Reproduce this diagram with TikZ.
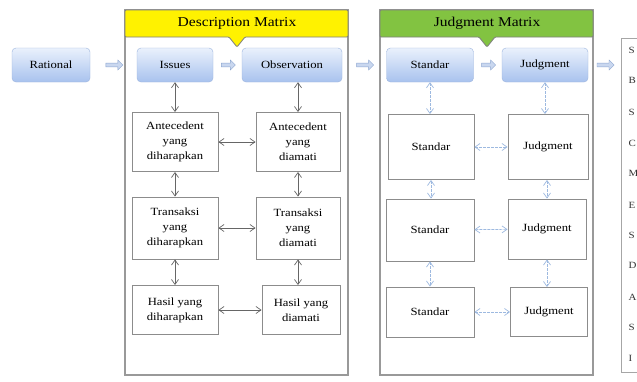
\documentclass[tikz,border=0pt]{standalone}
\usepackage{fontspec}
\setmainfont{Liberation Serif}[FakeStretch=1.15]
\usepackage{tikz}
\usetikzlibrary{%
  arrows.meta,%
  calc,%
  shapes.arrows%
}
\definecolor{boxtop}{HTML}{EAF1FC}
\definecolor{boxbot}{HTML}{A8C2EE}
\definecolor{boxline}{HTML}{9DB5DE}
\definecolor{arrfill}{HTML}{C9D7EF}
\definecolor{arrline}{HTML}{8CA6D0}
\definecolor{hdyellow}{HTML}{FFF200}
\definecolor{hdgreen}{HTML}{82C341}
\definecolor{ltblue}{HTML}{9DB9E0}
\tikzset{
  rbox/.style={draw=boxline,rounded corners=4pt,top color=boxtop,bottom color=boxbot,
    minimum height=34pt,font=\fontsize{11}{14}\selectfont},
  mbox/.style={draw=black!45,line width=0.9pt,align=center,
    font=\fontsize{11}{15}\selectfont},
  blockarr/.style={single arrow,draw=arrline,fill=arrfill,minimum height=17pt,
    minimum width=10pt,single arrow head extend=2pt,inner sep=1pt},
  dbl/.style={{Straight Barb[length=5pt,width=7pt]}-{Straight Barb[length=5pt,width=7pt]},
    black!60,line width=0.7pt},
  dblb/.style={dbl,ltblue,dashed,dash pattern=on 3pt off 1pt}
}
\begin{document}
\begin{tikzpicture}[x=1pt,y=-1pt]
\useasboundingbox[fill=white] (0,0) rectangle (637,381);
% frames and headers
\draw[black!40,line width=1.2pt] (125,10) rectangle (348,375);
\draw[black!40,line width=1.2pt] (380,10) rectangle (593,375);
\draw[black!35,line width=1pt] (621,38) rectangle (660,372);
\filldraw[draw=black!50,fill=hdyellow,line width=0.8pt,rounded corners=1pt]
  (125,10) -- (348,10) -- (348,37) -- (245,37) -- (237,47) -- (229,37) -- (125,37) -- cycle;
\filldraw[draw=black!50,fill=hdgreen,line width=0.8pt,rounded corners=1pt]
  (380,10) -- (593,10) -- (593,37) -- (495,37) -- (487,47) -- (479,37) -- (380,37) -- cycle;
\node[font=\fontsize{13.5}{16}\selectfont] (desc) at (237,23) {Description Matrix};
\node[font=\fontsize{13.5}{16}\selectfont] (judg) at (487,23) {Judgment Matrix};

% top row
\node[rbox,minimum width=78pt] (rational) at (51,65) {Rational};
\node[rbox,minimum width=76pt] (issues) at (175,65) {Issues};
\node[rbox,minimum width=100pt] (observ) at (292,65) {Observation};
\node[rbox,minimum width=87pt] (stdA) at (430,65) {Standar};
\node[rbox,minimum width=86pt] (jdgA) at (545,65) {Judgment};
\coordinate (panel) at (621,65);

\node[blockarr] at ($(rational.east)!0.5!(issues.west)$) {};
\node[blockarr,minimum height=14pt] at ($(issues.east)!0.5!(observ.west)$) {};
\node[blockarr] at ($(observ.east)!0.5!(stdA.west)$) {};
\node[blockarr,minimum height=14pt] at ($(stdA.east)!0.5!(jdgA.west)$) {};
\node[blockarr] at ($(jdgA.east)!0.5!(panel)$) {};

% description matrix
\node[mbox,minimum width=86pt,minimum height=59pt] (antL) at (175,142)
  {Antecedent\\yang\\diharapkan};
\node[mbox,minimum width=84pt,minimum height=59pt] (antR) at (298,142)
  {Antecedent\\yang\\diamati};
\node[mbox,minimum width=86pt,minimum height=62pt] (trsL) at (175,228)
  {Transaksi\\yang\\diharapkan};
\node[mbox,minimum width=84pt,minimum height=62pt] (trsR) at (298,228)
  {Transaksi\\yang\\diamati};
\node[mbox,minimum width=86pt,minimum height=49pt] (hslL) at (175,310)
  {Hasil yang\\diharapkan};
\node[mbox,minimum width=78pt,minimum height=49pt] (hslR) at (301,310)
  {Hasil yang\\diamati};

\draw[dbl] (issues) -- (antL);
\draw[dbl] (antL) -- (trsL);
\draw[dbl] (trsL) -- (hslL);
\draw[dbl] (observ.south -| antR) -- (antR);
\draw[dbl] (antR) -- (trsR);
\draw[dbl] (trsR.south) -- (trsR.south |- hslR.north);
\draw[dbl] (antL) -- (antR);
\draw[dbl] (trsL) -- (trsR);
\draw[dbl] (hslL) -- (hslR);

% judgment matrix
\node[mbox,minimum width=86pt,minimum height=65pt] (stdB) at (431,147) {Standar};
\node[mbox,minimum width=80pt,minimum height=65pt] (jdgB) at (548,147) {Judgment};
\node[mbox,minimum width=88pt,minimum height=62pt] (stdC) at (430,230) {Standar};
\node[mbox,minimum width=78pt,minimum height=60pt] (jdgC) at (547,229) {Judgment};
\node[mbox,minimum width=88pt,minimum height=50pt] (stdD) at (430,312) {Standar};
\node[mbox,minimum width=77pt,minimum height=49pt] (jdgD) at (549,312) {Judgment};

\draw[dblb] (stdA) -- (stdA |- stdB.north);
\draw[dblb] (stdB.south) -- (stdB.south |- stdC.north);
\draw[dblb] (stdC) -- (stdD);
\draw[dblb] (jdgA) -- (jdgA |- jdgB.north);
\draw[dblb] (jdgB.south -| jdgC) -- (jdgC);
\draw[dblb] (jdgC) -- (jdgC |- jdgD.north);
\draw[dblb] (stdB) -- (jdgB);
\draw[dblb] (stdC) -- (jdgC);
\draw[dblb] (stdD) -- (jdgD);

% right list (cut off)
\foreach \l/\y in {S/50,B/80,S/112,C/143,M/173,E/205,S/235,D/265,A/297,S/327,I/358}
  \node[font=\fontsize{9.5}{10}\selectfont,anchor=west,black!80] at (625,\y) {\l};
\end{tikzpicture}
\end{document}
